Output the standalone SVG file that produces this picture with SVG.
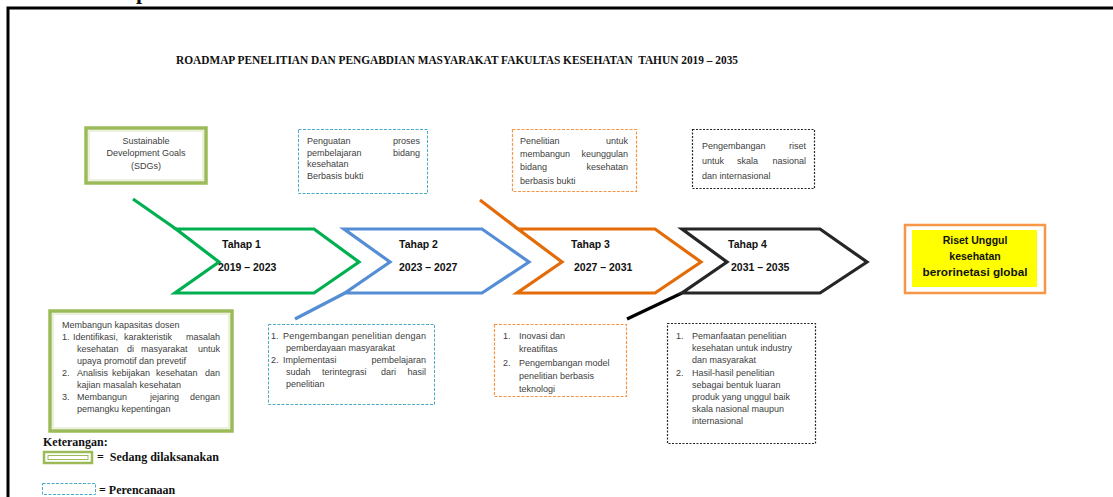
<svg xmlns="http://www.w3.org/2000/svg" width="1113" height="497" viewBox="0 0 1113 497">
<style>
.t{font-family:"Liberation Sans",Arial,sans-serif;font-size:9px;fill:#404040}
.tb{font-family:"Liberation Sans",Arial,sans-serif;font-size:10.5px;font-weight:bold;fill:#111}
.s{font-family:"Liberation Serif","Times New Roman",serif;font-weight:bold;fill:#111;white-space:pre}
.gbox{fill:#fff;stroke:#9bbb59;stroke-width:3.5}
.gin{fill:none;stroke:#d7e4bc;stroke-width:1}
.bd{fill:#fff;stroke:#4bacc6;stroke-width:1;stroke-dasharray:3 1.5}
.od{fill:#fff;stroke:#f79646;stroke-width:1.2;stroke-dasharray:3 1.5}
.kd{fill:#fff;stroke:#262626;stroke-width:1.2;stroke-dasharray:2 1.5}
.chev{fill:none;stroke-width:3.2;stroke-linejoin:miter}
</style>
<rect width="1113" height="497" fill="#fff"/>
<text class="s" x="136" y="-1" font-size="22">p</text>
<path d="M8 497 V8 H1113" fill="none" stroke="#000" stroke-width="3"/>
<text class="s" x="176" y="64" font-size="13.5" textLength="562" lengthAdjust="spacingAndGlyphs" xml:space="preserve">ROADMAP PENELITIAN DAN PENGABDIAN MASYARAKAT FAKULTAS KESEHATAN  TAHUN 2019 – 2035</text>

<g id="connectors" fill="none" stroke-width="3.2">
<line x1="133" y1="199" x2="176" y2="229" stroke="#00b050"/>
<line x1="295" y1="319" x2="345" y2="293" stroke="#558ed5"/>
<line x1="480" y1="200" x2="518" y2="229" stroke="#e36c09"/>
<line x1="627" y1="319" x2="682" y2="293" stroke="#000"/>
</g>

<g id="tahap1">
<polygon class="chev" stroke="#00b050" points="176,229 314,229 359,262 314,293 175,293 219,262"/>
<text class="tb" x="222" y="248">Tahap 1</text>
<text class="tb" x="218" y="271">2019 – 2023</text>
</g>
<g id="tahap2">
<polygon class="chev" stroke="#558ed5" points="344,229 482,229 529,262 482,293 345,293 390,262"/>
<text class="tb" x="399" y="248">Tahap 2</text>
<text class="tb" x="399" y="271">2023 – 2027</text>
</g>
<g id="tahap3">
<polygon class="chev" stroke="#e36c09" points="518,229 655,229 701,262 655,293 517,293 562,262"/>
<text class="tb" x="571" y="248">Tahap 3</text>
<text class="tb" x="574" y="271">2027 – 2031</text>
</g>
<g id="tahap4">
<polygon class="chev" stroke="#262626" points="682,229 820,229 867,262 820,293 682,293 727,262"/>
<text class="tb" x="728" y="248">Tahap 4</text>
<text class="tb" x="731" y="271">2031 – 2035</text>
</g>

<g id="sdgs">
<rect class="gbox" x="86" y="128" width="120" height="55"/>
<rect class="gin" x="89" y="131" width="114" height="49"/>
<text class="t" text-anchor="middle" x="146" y="144">Sustainable</text>
<text class="t" text-anchor="middle" x="146" y="156">Development Goals</text>
<text class="t" text-anchor="middle" x="146" y="169">(SDGs)</text>
</g>

<g id="penguatan">
<rect class="bd" x="298.5" y="129.5" width="129" height="64"/>
<text class="t" x="307" y="144">Penguatan</text><text class="t" x="420" y="144" text-anchor="end">proses</text>
<text class="t" x="307" y="156">pembelajaran</text><text class="t" x="420" y="156" text-anchor="end">bidang</text>
<text class="t" x="307" y="167">kesehatan</text>
<text class="t" x="307" y="179">Berbasis bukti</text>
</g>

<g id="penelitian">
<rect class="od" x="512.5" y="129.5" width="124" height="62"/>
<text class="t" x="520" y="144">Penelitian</text><text class="t" x="628" y="144" text-anchor="end">untuk</text>
<text class="t" x="520" y="157">membangun</text><text class="t" x="628" y="157" text-anchor="end">keunggulan</text>
<text class="t" x="520" y="170">bidang</text><text class="t" x="628" y="170" text-anchor="end">kesehatan</text>
<text class="t" x="520" y="184">berbasis bukti</text>
</g>

<g id="pengembangan">
<rect class="kd" x="692.5" y="129.5" width="122" height="59"/>
<text class="t" x="702" y="149" font-size="9.6">Pengembangan</text><text class="t" x="806" y="149" text-anchor="end" font-size="9.6">riset</text>
<text class="t" x="702" y="164" font-size="9.6">untuk</text><text class="t" x="737" y="164" font-size="9.6">skala</text><text class="t" x="806" y="164" text-anchor="end" font-size="9.6">nasional</text>
<text class="t" x="702" y="179" font-size="9.6">dan internasional</text>
</g>

<g id="riset">
<rect x="905" y="225" width="140" height="68" fill="#fff" stroke="#f79646" stroke-width="2.5"/>
<rect x="912" y="230" width="125" height="57" fill="#ffff00"/>
<text class="tb" text-anchor="middle" x="975" y="244">Riset Unggul</text>
<text class="tb" text-anchor="middle" x="975" y="260">kesehatan</text>
<text class="tb" text-anchor="middle" x="975" y="276" textLength="105" lengthAdjust="spacingAndGlyphs">berorinetasi global</text>
</g>

<g id="kapasitas">
<rect class="gbox" x="50" y="311" width="182" height="120"/>
<rect class="gin" x="53" y="314" width="176" height="114"/>
<text class="t" x="62" y="328">Membangun kapasitas dosen</text>
<text class="t" x="62" y="340">1.</text>
<text class="t" x="73" y="340">Identifikasi,</text><text class="t" x="124" y="340">karakteristik</text><text class="t" x="220" y="340" text-anchor="end">masalah</text>
<text class="t" x="77" y="352">kesehatan</text><text class="t" x="127" y="352">di</text><text class="t" x="141" y="352">masyarakat</text><text class="t" x="220" y="352" text-anchor="end">untuk</text>
<text class="t" x="77" y="364">upaya promotif dan prevetif</text>
<text class="t" x="62" y="376">2.</text>
<text class="t" x="77" y="376">Analisis</text><text class="t" x="112" y="376">kebijakan</text><text class="t" x="156" y="376">kesehatan</text><text class="t" x="220" y="376" text-anchor="end">dan</text>
<text class="t" x="77" y="388">kajian masalah kesehatan</text>
<text class="t" x="62" y="400">3.</text>
<text class="t" x="77" y="400">Membangun</text><text class="t" x="150" y="400">jejaring</text><text class="t" x="220" y="400" text-anchor="end">dengan</text>
<text class="t" x="77" y="412">pemangku kepentingan</text>
</g>

<g id="pemberdayaan">
<rect class="bd" x="268.5" y="324.5" width="166" height="80"/>
<text class="t" x="271" y="339">1.</text>
<text class="t" x="283" y="339" textLength="143" lengthAdjust="spacing">Pengembangan penelitian dengan</text>
<text class="t" x="286" y="351">pemberdayaan masyarakat</text>
<text class="t" x="271" y="363">2.</text>
<text class="t" x="283" y="363">Implementasi</text><text class="t" x="426" y="363" text-anchor="end">pembelajaran</text>
<text class="t" x="286" y="375">sudah</text><text class="t" x="322" y="375">terintegrasi</text><text class="t" x="381" y="375">dari</text><text class="t" x="426" y="375" text-anchor="end">hasil</text>
<text class="t" x="286" y="387">penelitian</text>
</g>

<g id="inovasi">
<rect class="od" x="494.5" y="324.5" width="132" height="72"/>
<text class="t" x="503" y="339">1.</text><text class="t" x="519" y="339">Inovasi dan</text>
<text class="t" x="519" y="352">kreatifitas</text>
<text class="t" x="503" y="366">2.</text><text class="t" x="519" y="366">Pengembangan model</text>
<text class="t" x="519" y="379">penelitian berbasis</text>
<text class="t" x="519" y="392">teknologi</text>
</g>

<g id="pemanfaatan">
<rect class="kd" x="667.5" y="323.5" width="148" height="120"/>
<text class="t" x="676" y="339">1.</text><text class="t" x="692" y="339">Pemanfaatan penelitian</text>
<text class="t" x="692" y="351">kesehatan untuk industry</text>
<text class="t" x="692" y="363">dan masyarakat</text>
<text class="t" x="676" y="376">2.</text><text class="t" x="692" y="376">Hasil-hasil penelitian</text>
<text class="t" x="692" y="388">sebagai bentuk luaran</text>
<text class="t" x="692" y="400">produk yang unggul baik</text>
<text class="t" x="692" y="412">skala nasional maupun</text>
<text class="t" x="692" y="424">internasional</text>
</g>

<g id="legend">
<text class="s" x="43" y="446" font-size="12">Keterangan:</text>
<rect x="44" y="452" width="48" height="11" fill="#fff" stroke="#9bbb59" stroke-width="2.5"/>
<rect x="48" y="455.5" width="40" height="4" fill="#fff" stroke="#9bbb59" stroke-width="1"/>
<text class="s" x="97" y="461" font-size="12" xml:space="preserve">=  Sedang dilaksanakan</text>
<rect class="bd" x="42.5" y="483.5" width="53" height="11"/>
<text class="s" x="99" y="494" font-size="12">= Perencanaan</text>
</g>
</svg>
